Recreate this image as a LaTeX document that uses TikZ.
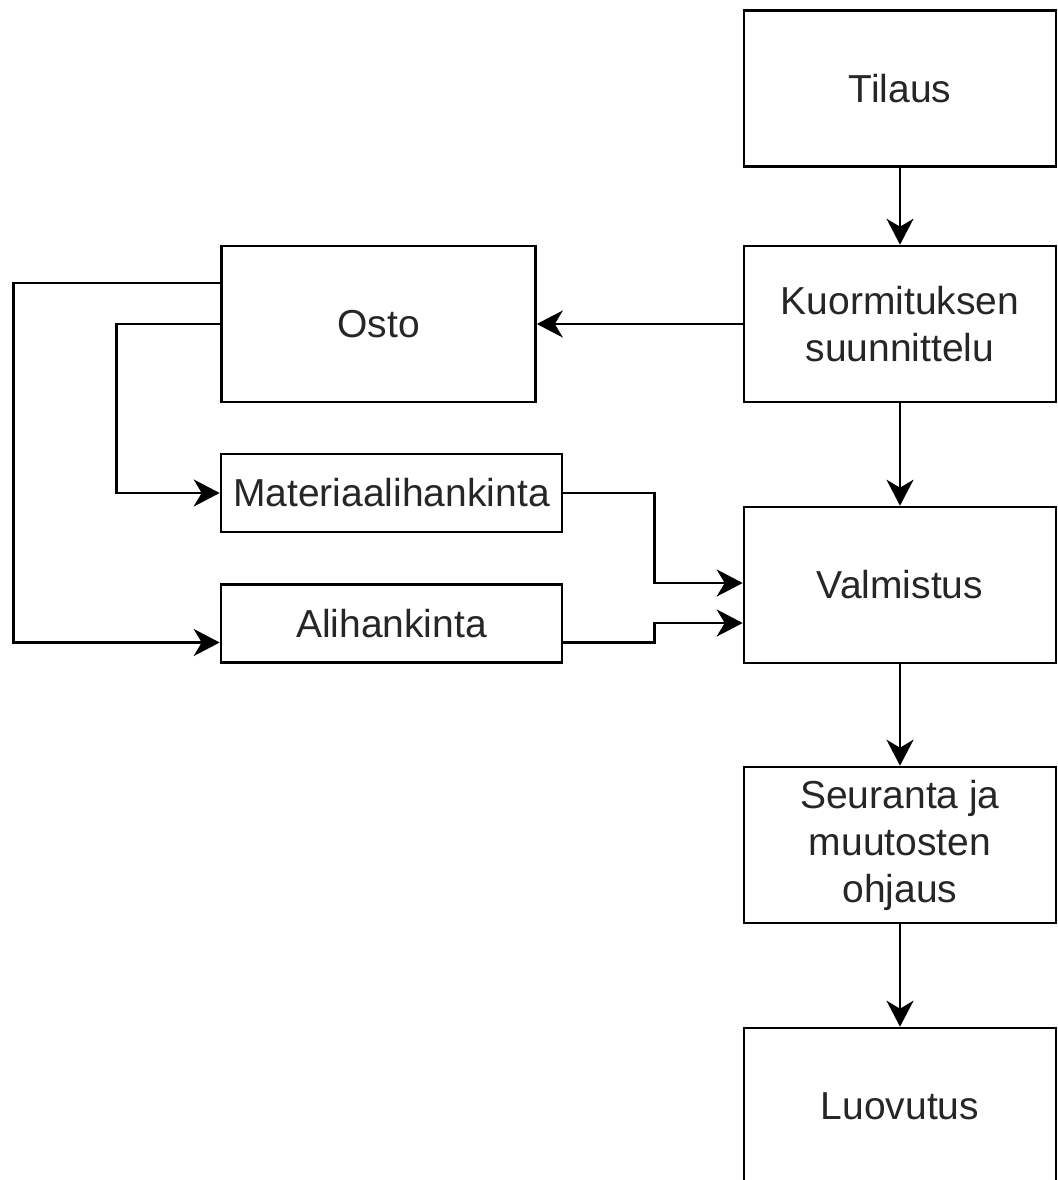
\documentclass[tikz,border=0pt]{standalone}
\usepackage{fontspec}
\setmainfont{Liberation Sans}
\usetikzlibrary{arrows.meta,calc}
\begin{document}
\begin{tikzpicture}[x=1pt,y=-1pt,
  box/.style={draw=black, line width=2.6pt, fill=white, inner sep=0pt, align=center,
    font=\fontsize{39}{47}\selectfont, text=black!85},
  bigbox/.style={box, minimum width=312pt, minimum height=156pt},
  arr/.style={line width=2.6pt, -{Stealth[length=26pt, width=27pt, inset=8pt]}}]
\clip (0,0) rectangle (1057,1180);
\fill[white] (0,0) rectangle (1057,1180);

% main process column
\node[bigbox] (tilaus) at (900,88.5) {Tilaus};
\node[bigbox] (kuorm) at (900,324) {Kuormituksen\\suunnittelu};
\node[bigbox] (valm) at (900,585) {Valmistus};
\node[bigbox] (seur) at (900,845) {Seuranta ja\\muutosten\\ohjaus};
\node[bigbox] (luov) at (900,1106) {Luovutus};

% purchasing branch
\node[box, minimum width=314pt, minimum height=156pt] (osto) at (378.5,324) {Osto};
\node[box, minimum width=341pt, minimum height=78pt] (mat) at (391.5,493) {Materiaalihankinta};
\node[box, minimum width=341pt, minimum height=78pt] (ali) at (391.5,623.5) {Alihankinta};

% connectors
\draw[arr] (tilaus) -- (kuorm);
\draw[arr] (kuorm) -- (valm);
\draw[arr] (valm) -- (seur);
\draw[arr] (seur) -- (luov);
\draw[arr] (kuorm.west) -- (osto.east);
\draw[arr] ($(osto.west)+(0,-41)$) -- ++(-207,0) |- ($(ali.west)+(0,19)$);
\draw[arr] (osto.west) -- ++(-103.5,0) |- (mat.west);
\draw[arr] (mat.east) -- ++(91,0) |- ($(valm.west)+(0,-2)$);
\draw[arr] ($(ali.east)+(0,19)$) -- ++(91,0) |- ($(valm.west)+(0,38)$);
\end{tikzpicture}
\end{document}
